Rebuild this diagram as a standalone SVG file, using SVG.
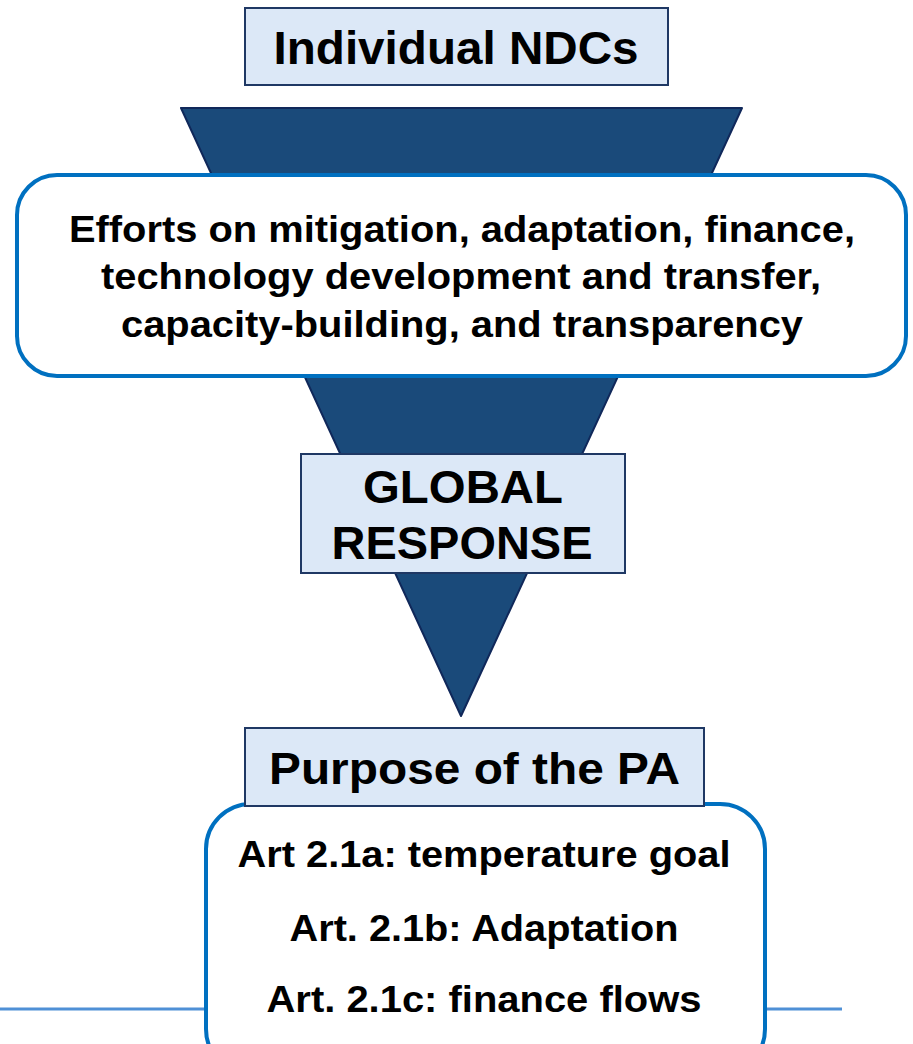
<svg xmlns="http://www.w3.org/2000/svg" width="913" height="1044" viewBox="0 0 913 1044">
<style>
.lbl{fill:#dce8f7;stroke:#1f3864;stroke-width:2}
.rbox{fill:#ffffff;stroke:#0070c0;stroke-width:4}
.t{font-family:"Liberation Sans",Arial,sans-serif;font-weight:bold;fill:#000;text-anchor:middle}
</style>
<rect width="913" height="1044" fill="#ffffff"/>
<g id="funnel">
<polygon points="181,108 742,108 461,716" fill="#1a4a7a" stroke="#10285a" stroke-width="2" stroke-linejoin="round"/>
</g>
<g id="decor">
<line x1="0" y1="1009" x2="842" y2="1009" stroke="#4f90d6" stroke-width="3"/>
</g>
<g id="individual-ndcs">
<rect class="lbl" x="245" y="8" width="423" height="77"/>
<text class="t" x="456" y="64" font-size="47" textLength="365" lengthAdjust="spacingAndGlyphs">Individual NDCs</text>
</g>
<g id="efforts">
<rect class="rbox" x="17" y="175" width="889" height="201" rx="40" ry="40"/>
<text class="t" x="462" y="242" font-size="37" textLength="786" lengthAdjust="spacingAndGlyphs">Efforts on mitigation, adaptation, finance,</text>
<text class="t" x="461" y="289" font-size="37" textLength="720" lengthAdjust="spacingAndGlyphs">technology development and transfer,</text>
<text class="t" x="462" y="337" font-size="37" textLength="682" lengthAdjust="spacingAndGlyphs">capacity-building, and transparency</text>
</g>
<g id="global-response">
<rect class="lbl" x="301" y="454" width="324" height="119"/>
<text class="t" x="463" y="503" font-size="47" textLength="200" lengthAdjust="spacingAndGlyphs">GLOBAL</text>
<text class="t" x="462" y="559" font-size="47" textLength="261" lengthAdjust="spacingAndGlyphs">RESPONSE</text>
</g>
<g id="purpose-items">
<rect class="rbox" x="206" y="804" width="559" height="270" rx="45" ry="45"/>
<text class="t" x="484" y="867" font-size="36" textLength="493" lengthAdjust="spacingAndGlyphs">Art 2.1a: temperature goal</text>
<text class="t" x="484" y="941" font-size="36" textLength="389" lengthAdjust="spacingAndGlyphs">Art. 2.1b: Adaptation</text>
<text class="t" x="484" y="1012" font-size="36" textLength="435" lengthAdjust="spacingAndGlyphs">Art. 2.1c: finance flows</text>
</g>
<g id="purpose">
<rect class="lbl" x="245" y="728" width="459" height="78"/>
<text class="t" x="474.5" y="784" font-size="44" textLength="411" lengthAdjust="spacingAndGlyphs">Purpose of the PA</text>
</g>
</svg>
